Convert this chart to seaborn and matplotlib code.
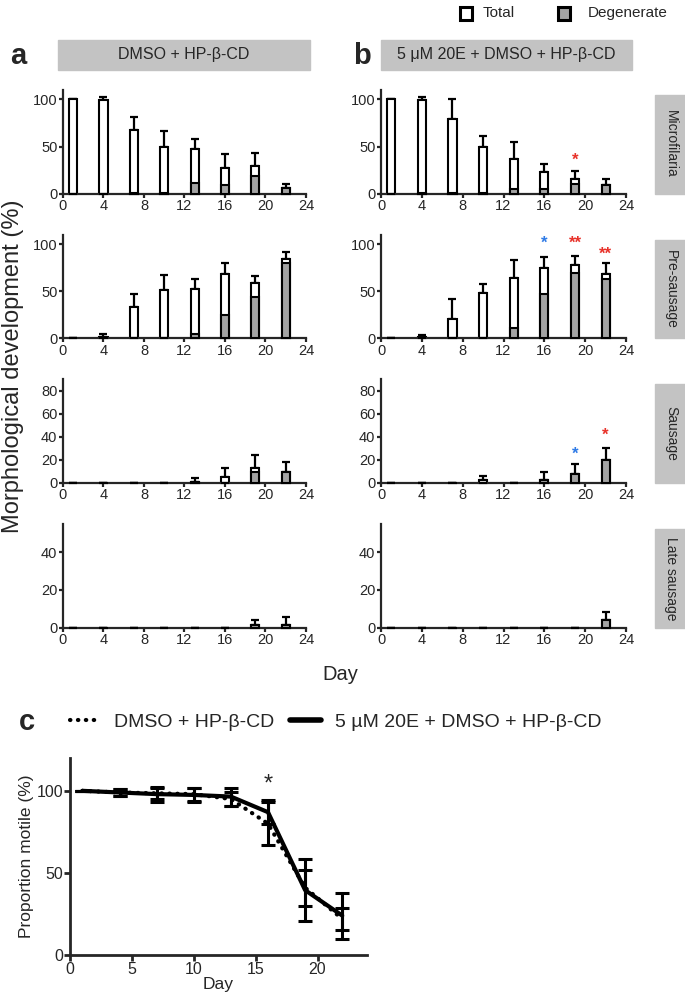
import numpy as np
import pandas as pd
import matplotlib
matplotlib.use("Agg")
import matplotlib.pyplot as plt
import seaborn as sns
from matplotlib.patches import Rectangle
from matplotlib.lines import Line2D
from matplotlib import font_manager

sns.set_style("ticks")
names = {f.name for f in font_manager.fontManager.ttflist}
NARROW = ["Liberation Sans Narrow", "Liberation Sans", "DejaVu Sans"] if "Liberation Sans Narrow" in names else ["Liberation Sans", "DejaVu Sans"]
plt.rcParams["font.family"] = ["Liberation Sans", "DejaVu Sans"]

# ---------------- data ----------------
days = [1, 4, 7, 10, 13, 16, 19, 22]
stages = ["Microfilaria", "Pre-sausage", "Sausage", "Late sausage"]
legend_labels = ["Total", "Degenerate"]

# panel a : DMSO + HP-β-CD
a_mf_total = [100, 99, 68, 50, 47, 27.5, 29.5, 6.3]
a_mf_err = [0, 3.5, 13, 16, 11, 14.5, 13.5, 4.3]
a_mf_degen = [0, 0, 1, 1, 11, 9.5, 19, 6.3]
a_pre_total = [0, 1, 33, 51, 53, 68, 58.5, 84]
a_pre_err = [0, 4, 14, 16, 10.5, 12.5, 8, 8]
a_pre_degen = [0, 0, 0, 0, 4.5, 25, 44.5, 80.5]
a_saus_total = [0, 0, 0, 0, 1, 5.2, 12.5, 9.6]
a_saus_err = [0, 0, 0, 0, 2.8, 7.8, 11.3, 8.7]
a_saus_degen = [0, 0, 0, 0, 0.5, 0, 9.6, 9.6]
a_late_total = [0, 0, 0, 0, 0, 0, 1.5, 1.5]
a_late_err = [0, 0, 0, 0, 0, 0, 2.7, 4.3]
a_late_degen = [0, 0, 0, 0, 0, 0, 1.5, 1.5]

# panel b : 5 µM 20E + DMSO + HP-β-CD
b_mf_total = [100, 99.6, 79.6, 50, 36.3, 23.2, 15.8, 8.8]
b_mf_err = [0, 2.9, 20.4, 11.6, 18.7, 8.1, 8.5, 6.7]
b_mf_degen = [0, 1, 1, 1, 5, 5, 10.6, 8.8]
b_pre_total = [0, 1, 21, 48.6, 64.5, 75, 78, 68]
b_pre_err = [0, 2.5, 21, 9.4, 18.5, 12, 10, 12]
b_pre_degen = [0, 0, 0, 0, 10.6, 46.8, 70, 63]
b_saus_total = [0, 0, 0, 2.3, 0, 2.3, 7.2, 20]
b_saus_err = [0, 0, 0, 3.5, 0, 6.7, 9.3, 10.4]
b_saus_degen = [0, 0, 0, 0, 0, 2, 7.2, 20]
b_late_total = [0, 0, 0, 0, 0, 0, 0, 4]
b_late_err = [0, 0, 0, 0, 0, 0, 0, 4.4]
b_late_degen = [0, 0, 0, 0, 0, 0, 0, 4]

# significance marks in panel b: (stage index, day, y, text, colour)
b_stars = [
    (0, 19, 35, "*", "red"),
    (1, 16, 101, "*", "blue"),
    (1, 19, 101, "**", "red"),
    (1, 22, 90, "**", "red"),
    (2, 19, 24.6, "*", "blue"),
    (2, 22, 41, "*", "red"),
]

# panel c : proportion motile
c_dmso = [100, 99, 98.5, 98, 95, 80, 41, 22]
c_dmso_err = [0, 2.3, 3.5, 4, 4, 13, 11, 6.5]
c_20e = [100, 99, 98, 97.5, 96.5, 87, 39.5, 24]
c_20e_err = [0, 2.3, 4.5, 4.2, 5.5, 7.5, 18.7, 14]
c_star_day, c_star_y = 16, 104

panel_a = [(a_mf_total, a_mf_err, a_mf_degen), (a_pre_total, a_pre_err, a_pre_degen),
           (a_saus_total, a_saus_err, a_saus_degen), (a_late_total, a_late_err, a_late_degen)]
panel_b = [(b_mf_total, b_mf_err, b_mf_degen), (b_pre_total, b_pre_err, b_pre_degen),
           (b_saus_total, b_saus_err, b_saus_degen), (b_late_total, b_late_err, b_late_degen)]

row_ylim = [110, 110, 90, 55]
row_yticks = [[0, 50, 100], [0, 50, 100], [0, 20, 40, 60, 80], [0, 20, 40]]
row_px = [(90, 193.7), (235, 338.3), (379.3, 482.7), (524, 627.7)]

GRAY = "#a3a3a3"
STRIP = "#c3c3c3"
STAR_COL = {"red": "#e8322a", "blue": "#2f7be6"}
W, H = 685, 1000

fig = plt.figure(figsize=(6.85, 10), dpi=100)

def fx(px):
    return px / W

def fy(py):
    return 1 - py / H

def style_axis(ax, lw=1.6, size=10.5):
    sns.despine(ax=ax)
    for s in ("left", "bottom"):
        ax.spines[s].set_linewidth(lw)
    ax.tick_params(direction="out", length=3, width=lw, labelsize=size, pad=1)

col_px = [(63, 306), (381, 626)]
for ci, panel in enumerate([panel_a, panel_b]):
    x0, x1 = col_px[ci]
    for ri, (tot, err, deg) in enumerate(panel):
        t, b = row_px[ri]
        ax = fig.add_axes([fx(x0), fy(b), fx(x1 - x0), (b - t) / H])
        ax.errorbar(days, tot, yerr=[np.zeros(len(err)), err], fmt="none",
                    ecolor="black", elinewidth=1.6, capsize=3, capthick=1.6, zorder=1)
        sns.barplot(x=days, y=tot, native_scale=True, width=0.8 / 3, color="white",
                    edgecolor="black", linewidth=1.5, saturation=1, errorbar=None, ax=ax, zorder=2)
        sns.barplot(x=days, y=deg, native_scale=True, width=0.8 / 3, color=GRAY,
                    edgecolor="black", linewidth=1.5, saturation=1, errorbar=None, ax=ax, zorder=3)
        ax.set_xlim(0, 24)
        ax.set_ylim(0, row_ylim[ri])
        ax.set_xticks(range(0, 25, 4))
        ax.set_xticklabels([str(v) for v in range(0, 25, 4)])
        ax.set_yticks(row_yticks[ri])
        ax.set_xlabel("")
        ax.set_ylabel("")
        style_axis(ax)
        for c in ax.patches:
            c.set_clip_on(False)
        if ci == 1:
            for (si, d, y, txt, col) in b_stars:
                if si == ri:
                    ax.text(d, y, txt, ha="center", va="center", color=STAR_COL[col],
                            fontsize=12, fontweight="bold", zorder=5)
            # strip label
            fig.patches.append(Rectangle((fx(655), fy(b)), fx(32), (b - t - 5) / H,
                                         transform=fig.transFigure, color=STRIP, zorder=0))
            fig.text(fx(671), fy((t + 5 + b) / 2), stages[ri], rotation=270,
                     ha="center", va="center", fontsize=10)

# header boxes
for (x0, x1, label, letter, lx) in [(58, 310, "DMSO + HP-β-CD", "a", 18),
                                    (381, 632, "5 μM 20E + DMSO + HP-β-CD", "b", 362)]:
    fig.patches.append(Rectangle((fx(x0), fy(70)), fx(x1 - x0), 30 / H,
                                 transform=fig.transFigure, color=STRIP, zorder=0))
    fig.text(fx((x0 + x1) / 2), fy(55), label, ha="center", va="center",
             fontsize=11.5, family=NARROW)
    fig.text(fx(lx), fy(56), letter, ha="center", va="center", fontsize=21, fontweight="bold")

# top legend (squares + labels)
for (sx, tx, fc, lab) in [(460, 483, "white", legend_labels[0]), (558, 588, GRAY, legend_labels[1])]:
    fig.patches.append(Rectangle((fx(sx), fy(20)), fx(12), 13 / H, transform=fig.transFigure,
                                 facecolor=fc, edgecolor="black", linewidth=2.2, zorder=3))
    fig.text(fx(tx), fy(13), lab, ha="left", va="center", fontsize=11, family=NARROW)

fig.text(fx(13), fy(366), "Morphological development (%)", rotation=90,
         ha="center", va="center", fontsize=17)
fig.text(fx(340), fy(675), "Day", ha="center", va="center", fontsize=14.5, family=NARROW)

# ---------------- panel c ----------------
axc = fig.add_axes([fx(70), fy(955), fx(367 - 70), (955 - 758) / H])
dfc = pd.DataFrame({
    "Day": days * 2,
    "motile": c_dmso + c_20e,
    "treatment": ["DMSO + HP-β-CD"] * len(days) + ["5 µM 20E + DMSO + HP-β-CD"] * len(days),
})
sns.lineplot(data=dfc[dfc.treatment == "DMSO + HP-β-CD"], x="Day", y="motile", color="black",
             lw=3, linestyle=(0, (0.1, 1.8)), dash_capstyle="round", ax=axc, errorbar=None)
sns.lineplot(data=dfc[dfc.treatment != "DMSO + HP-β-CD"], x="Day", y="motile", color="black",
             lw=3, ax=axc, errorbar=None)
axc.errorbar(days, c_dmso, yerr=c_dmso_err, fmt="none", ecolor="black", elinewidth=2.2,
             capsize=5, capthick=2.2)
axc.errorbar(days, c_20e, yerr=c_20e_err, fmt="none", ecolor="black", elinewidth=2.2,
             capsize=5, capthick=2.2)
axc.text(c_star_day, c_star_y, "*", ha="center", va="center", fontsize=17)
axc.set_xlim(0, 24)
axc.set_ylim(0, 120)
axc.set_xticks([0, 5, 10, 15, 20])
axc.set_yticks([0, 50, 100])
axc.set_xlabel("Day", fontsize=12.5, labelpad=0)
axc.set_ylabel("Proportion motile (%)", fontsize=12.5, labelpad=2)
style_axis(axc, lw=2, size=11.5)
axc.tick_params(length=4)

c_handles = [Line2D([], [], color="black", lw=3, linestyle=(0, (0.1, 1.8)), dash_capstyle="round"),
             Line2D([], [], color="black", lw=4)]
fig.legend(c_handles, ["DMSO + HP-β-CD", "5 µM 20E + DMSO + HP-β-CD"], loc="center left",
           bbox_to_anchor=(fx(52), fy(722)), ncol=2, frameon=False, fontsize=14,
           handlelength=1.6, handletextpad=0.7, columnspacing=0.8)
fig.text(fx(27), fy(722), "c", ha="center", va="center", fontsize=21, fontweight="bold")

fig.savefig("out.png", dpi=100)
